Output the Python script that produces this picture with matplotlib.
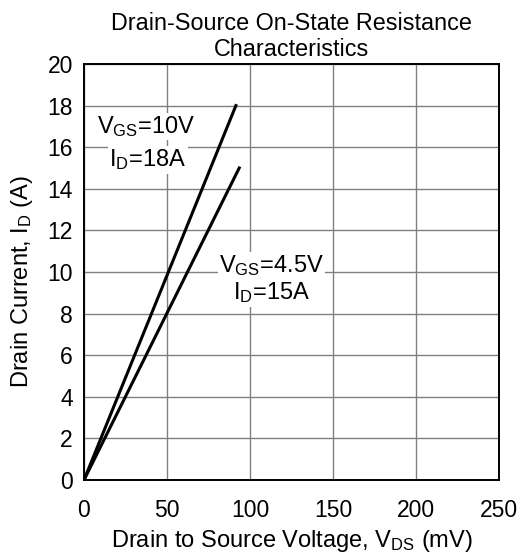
import matplotlib
matplotlib.use('Agg')
import matplotlib.pyplot as plt

# data
vds_10v = [0, 91.5]      # mV
id_10v = [0, 18]         # A
vds_45v = [0, 93.5]
id_45v = [0, 15]

xticks = [0, 50, 100, 150, 200, 250]
yticks = [0, 2, 4, 6, 8, 10, 12, 14, 16, 18, 20]

plt.rcParams['font.family'] = ['Liberation Sans', 'DejaVu Sans']
plt.rcParams['mathtext.fontset'] = 'custom'
plt.rcParams['mathtext.rm'] = 'Liberation Sans'
plt.rcParams['mathtext.it'] = 'Liberation Sans'

fig = plt.figure(figsize=(5.23, 5.59), dpi=100)
ax = fig.add_axes([84/523, 1 - 480/559, 415/523, 416/559])

ax.plot(vds_10v, id_10v, color='black', lw=2.2, zorder=3)
ax.plot(vds_45v, id_45v, color='black', lw=2.2, zorder=3)

ax.set_xlim(0, 250)
ax.set_ylim(0, 20)
ax.set_xticks(xticks)
ax.set_yticks(yticks)
ax.tick_params(length=0, labelsize=16.5)
ax.tick_params(axis='x', pad=14)
ax.tick_params(axis='y', pad=8)
ax.grid(True, color='#808080', lw=1.0)
ax.set_axisbelow(True)
for s in ax.spines.values():
    s.set_linewidth(1.4)
    s.set_color('black')

box = dict(facecolor='white', edgecolor='none', pad=1)
fs = 17
ax.text(37.5, 17.0, r'V$_{\mathrm{GS}}$=10V', fontsize=fs, ha='center', va='center', bbox=box, zorder=2)
ax.text(38.5, 15.4, r'I$_{\mathrm{D}}$=18A', fontsize=fs, ha='center', va='center', bbox=box, zorder=2)
ax.text(113, 10.3, r'V$_{\mathrm{GS}}$=4.5V', fontsize=fs, ha='center', va='center', bbox=box, zorder=2)
ax.text(113, 9.0, r'I$_{\mathrm{D}}$=15A', fontsize=fs, ha='center', va='center', bbox=box, zorder=2)

ax.set_title('Drain-Source On-State Resistance\nCharacteristics', fontsize=16.8, pad=6, linespacing=1.15)
ax.set_xlabel(r'Drain to Source Voltage, V$_{\mathrm{DS}}$ (mV)', fontsize=17, va='center')
ax.xaxis.set_label_coords(0.5, -0.147)
ax.set_ylabel(r'Drain Current, I$_{\mathrm{D}}$ (A)', fontsize=17, va='center')
ax.yaxis.set_label_coords(-0.149, 0.476)

fig.savefig('out.png', dpi=100)
